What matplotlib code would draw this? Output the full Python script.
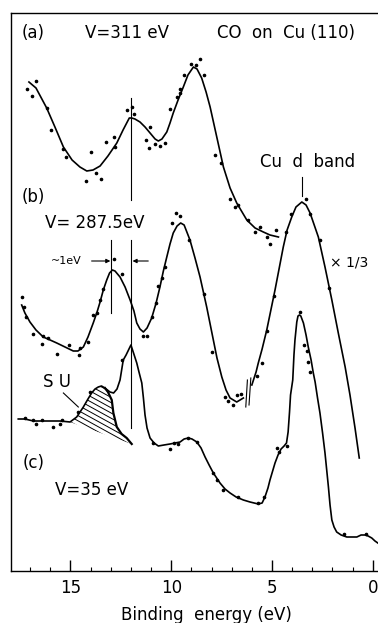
import numpy as np
import matplotlib
matplotlib.use('Agg')
import matplotlib.pyplot as plt
from matplotlib.patches import Polygon
from matplotlib.lines import Line2D
from matplotlib.transforms import IdentityTransform

plt.rcParams['font.family'] = ['DejaVu Sans']

# ---------------- data (binding energy in eV, intensity in arb. units) ----------------
a_E = [17.06, 16.71, 16.18, 15.77, 15.35, 14.92, 14.53, 14.19, 13.88, 13.53, 13.14, 12.70, 12.39, 12.08,
       11.96, 11.80, 11.55, 11.30, 11.05, 10.80, 10.64, 10.46, 10.22, 10.06, 9.90, 9.66, 9.40, 9.17,
       8.90, 8.72, 8.49, 8.27, 8.07, 7.74, 7.41, 7.08, 6.75, 6.25, 5.84, 5.43, 5.10, 4.68]
a_I = [489, 483, 463, 444, 424, 411, 404, 400, 401, 405, 415, 428, 441, 453,
       453, 452, 449, 444, 438, 432, 430, 432, 439, 448, 458, 471, 484, 496,
       504, 502, 493, 479, 464, 434, 404, 383, 368, 351, 343, 339, 336, 334]

b1_E = [17.42, 17.26, 17.01, 16.71, 16.35, 16.01, 15.68, 15.27, 14.86, 14.63, 14.36, 14.13, 13.87, 13.68,
        13.53, 13.37, 13.20, 13.06, 12.92, 12.79, 12.54, 12.29, 12.04, 11.85, 11.71, 11.55, 11.38, 11.20,
        10.97, 10.75, 10.56, 10.39, 10.22, 10.06, 9.90, 9.71, 9.53, 9.36, 9.07, 8.82, 8.57, 8.24, 7.91,
        7.73, 7.49, 7.28, 7.08, 6.75, 6.42]
b1_I = [266, 258, 249, 241, 234, 231, 228, 224, 220, 220, 224, 234, 248, 259,
        269, 281, 291, 298, 301, 300, 294, 284, 271, 260, 248, 242, 239, 243,
        253, 268, 284, 300, 314, 327, 338, 345, 348, 346, 331, 313, 294, 264, 231,
        213, 194, 181, 173, 169, 173]
b2_E = [6.00, 5.79, 5.68, 5.49, 5.26, 4.85, 4.44, 4.25, 4.02, 3.81, 3.52, 3.31, 3.11, 2.70,
        2.37, 2.03, 1.71, 1.37, 1.13, 0.88, 0.67]
b2_I = [186, 199, 208, 222, 241, 281, 324, 341, 354, 364, 369, 366, 358, 334,
        304, 271, 238, 204, 176, 143, 113]

c_E = [17.59, 17.26, 16.84, 16.35, 15.52, 15.02, 14.69, 14.36, 14.13, 13.95, 13.78, 13.62, 13.46, 13.29,
       13.04, 12.86, 12.69, 12.54, 12.38, 12.24, 12.12, 12.00, 11.87, 11.71, 11.60, 11.46, 11.38, 11.30,
       11.20, 11.05, 10.85, 10.64, 10.36, 10.06, 9.81, 9.56, 9.36, 9.15, 8.97, 8.73, 8.52, 8.32, 8.12,
       7.91, 7.58, 7.33, 7.08, 6.78, 6.42, 6.09, 5.68, 5.49, 5.35, 5.20, 5.10, 4.85, 4.70, 4.55, 4.40,
       4.28, 4.20, 4.13, 4.08, 3.97, 3.91, 3.86, 3.77, 3.71, 3.64, 3.57, 3.44, 3.31, 3.20, 3.06, 2.95,
       2.86, 2.74, 2.62, 2.49, 2.37, 2.20, 2.12, 2.03, 1.92, 1.79, 1.57, 1.29, 1.08, 0.79, 0.58, 0.38,
       0.23, 0.05, -0.11, -0.25]
c_I = [152, 152, 150, 150, 150, 149, 154, 164, 172, 178, 182, 184, 185, 183,
       179, 178, 182, 191, 211, 216, 221, 226, 218, 208, 199, 188, 173, 156,
       143, 133, 128, 125, 126, 127, 128, 129, 132, 133, 132, 129, 123, 114, 106,
       98, 88, 82, 78, 74, 71, 69, 67, 68, 74, 83, 91, 108, 116, 122, 125,
       128, 139, 159, 176, 191, 216, 231, 249, 255, 256, 255, 248, 236, 224, 211, 198,
       189, 173, 158, 138, 118, 84, 66, 51, 44, 39, 36, 34, 34, 34, 36, 36,
       35, 33, 30, 28]

# SU (hatched) component: right edge from the SU maximum down to the background
su_E = [13.29, 13.14, 12.95, 12.87, 12.70, 12.46, 12.21, 11.96]
su_I = [183, 179, 171, 158, 144, 137, 133, 127]

# measured points
da_E = [17.17, 16.92, 16.71, 16.18, 15.98, 15.35, 15.22, 14.24, 13.98, 13.73, 13.50, 13.24, 12.84, 12.77,
        12.21, 11.96, 11.85, 11.27, 11.09, 11.05, 10.80, 10.56, 10.31, 10.06, 9.73, 9.56, 9.56, 9.35,
        9.02, 8.78, 8.57, 8.37, 7.81, 7.54, 7.08, 6.83, 6.67, 6.17, 5.84, 5.59, 5.26, 5.10, 4.80]
da_I = [482, 475, 490, 463, 441, 422, 414, 390, 419, 398, 392, 429, 434, 424,
        461, 464, 457, 431, 423, 444, 427, 425, 428, 462, 474, 478, 482, 496,
        507, 506, 512, 496, 416, 408, 372, 364, 366, 351, 339, 344, 334, 327, 341]
db_E = [17.42, 17.31, 17.22, 16.87, 16.43, 16.35, 16.10, 15.68, 15.06, 14.56, 14.53, 14.11, 13.90, 13.67,
        13.53, 13.37, 12.82, 12.43, 11.38, 11.22, 10.97, 10.77, 10.64, 10.47, 10.31, 9.95, 9.76, 9.56,
        9.10, 8.37, 7.99, 7.33, 7.20, 6.92, 6.75, 6.55, 5.76, 5.51, 5.23, 4.88, 4.30, 4.05, 3.31, 3.11,
        2.62, 2.15]
db_I = [274, 264, 254, 237, 227, 235, 233, 217, 226, 216, 223, 229, 256, 258,
        271, 282, 312, 297, 235, 235, 254, 268, 285, 293, 304, 348, 358, 355,
        331, 277, 219, 174, 170, 166, 176, 177, 195, 208, 240, 275, 339, 357, 372, 357,
        331, 283]
dc_E = [17.26, 16.84, 16.71, 16.43, 15.85, 15.52, 15.43, 14.61, 14.03, 12.46, 10.89, 10.06, 9.85, 9.65,
        9.15, 8.73, 7.91, 7.71, 7.41, 6.67, 5.68, 5.39, 4.73, 4.67, 4.27, 3.61, 3.41, 3.25, 3.20, 3.11,
        1.42, 0.35]
dc_I = [153, 151, 147, 151, 144, 147, 151, 159, 179, 211, 128, 122, 128, 127,
        133, 129, 98, 91, 81, 74, 68, 74, 123, 119, 125, 259, 226, 220, 209, 199,
        37, 37]

x_major = [0, 5, 10, 15]
x_labels = ['0', '5', '10', '15']

# ---------------- figure ----------------
W, H = 378, 623
fig = plt.figure(figsize=(W / 100, H / 100), dpi=100)
ax = fig.add_axes([11 / W, (H - 571) / H, (W - 11) / W, 558 / H])
ax.set_xlim(17.95, -0.26)
ax.set_ylim(0, 558)
ax.spines['right'].set_visible(False)
for s in ['left', 'top', 'bottom']:
    ax.spines[s].set_linewidth(1.0)
ax.set_yticks([])
ax.set_xticks(x_major)
ax.set_xticklabels(x_labels)
ax.set_xticks(np.arange(0, 18, 1), minor=True)
ax.tick_params(axis='x', which='major', direction='in', length=8, width=1.0, labelsize=12, pad=6)
ax.tick_params(axis='x', which='minor', direction='in', length=3, width=0.8)

lw = 1.2
ax.plot(a_E, a_I, color='k', lw=lw)
ax.plot(b1_E, b1_I, color='k', lw=lw)
ax.plot(b2_E, b2_I, color='k', lw=lw)
ax.plot(c_E, c_I, color='k', lw=lw)
ax.plot(su_E, su_I, color='k', lw=1.6)

for dE, dI in [(da_E, da_I), (db_E, db_I), (dc_E, dc_I)]:
    ax.plot(dE, dI, linestyle='none', marker='o', ms=1.6, color='k')

# hatched SU region
i0, i1 = c_E.index(15.02), c_E.index(13.29)
poly_E = c_E[i0:i1 + 1] + su_E[1:]
poly_I = c_I[i0:i1 + 1] + su_I[1:]
poly = Polygon(np.column_stack([poly_E, poly_I]), closed=True, facecolor='none', edgecolor='none')
ax.add_patch(poly)
for b in np.arange(150, 270, 5.2):
    ln = Line2D([50, 150], [b, b - 0.55 * 100], transform=IdentityTransform(), color='k', lw=0.7)
    ln.set_clip_path(poly)
    fig.add_artist(ln)

# vertical marker lines
ax.plot([12.0, 12.0], [473, 371], color='k', lw=0.8)
ax.plot([12.0, 12.0], [331, 143], color='k', lw=0.8)
ax.plot([13.0, 13.0], [331, 258], color='k', lw=0.8)
ax.plot([3.52, 3.52], [394, 375], color='k', lw=0.8)

# break mark
ax.plot([6.22, 6.30], [191, 164], color='k', lw=0.8)
ax.plot([6.05, 6.14], [193, 166], color='k', lw=0.8)

# SU leader
ax.plot([15.35, 14.61], [178, 164], color='k', lw=0.8)

# ~1 eV arrows
ax.annotate('', xy=(13.02, 310), xytext=(13.95, 310),
            arrowprops=dict(arrowstyle='-|>', lw=0.8, color='k', mutation_scale=6, shrinkA=0, shrinkB=0))
ax.annotate('', xy=(11.92, 310), xytext=(11.14, 310),
            arrowprops=dict(arrowstyle='-|>', lw=0.8, color='k', mutation_scale=6, shrinkA=0, shrinkB=0))

# texts
fs = 12
ax.text(17.42, 538, '(a)', fontsize=fs, ha='left', va='center')
ax.text(14.28, 538, 'V=311 eV', fontsize=fs, ha='left', va='center')
ax.text(7.74, 538, 'CO  on  Cu (110)', fontsize=fs, ha='left', va='center')
ax.text(17.42, 374, '(b)', fontsize=fs, ha='left', va='center')
ax.text(16.26, 348, 'V= 287.5eV', fontsize=fs, ha='left', va='center')
ax.text(15.23, 310, '~1eV', fontsize=8, ha='center', va='center')
ax.text(5.58, 409, 'Cu  d  band', fontsize=fs, ha='left', va='center')
ax.text(2.12, 309, '× 1/3', fontsize=10, ha='left', va='center')
ax.text(15.68, 189, 'S U', fontsize=fs, ha='center', va='center')
ax.text(17.36, 108, '(c)', fontsize=fs, ha='left', va='center')
ax.text(15.77, 81, 'V=35 eV', fontsize=fs, ha='left', va='center')

fig.text(206 / W, 2.5 / H, 'Binding  energy (eV)', fontsize=12, ha='center', va='baseline')

fig.savefig('out.png', dpi=100)
